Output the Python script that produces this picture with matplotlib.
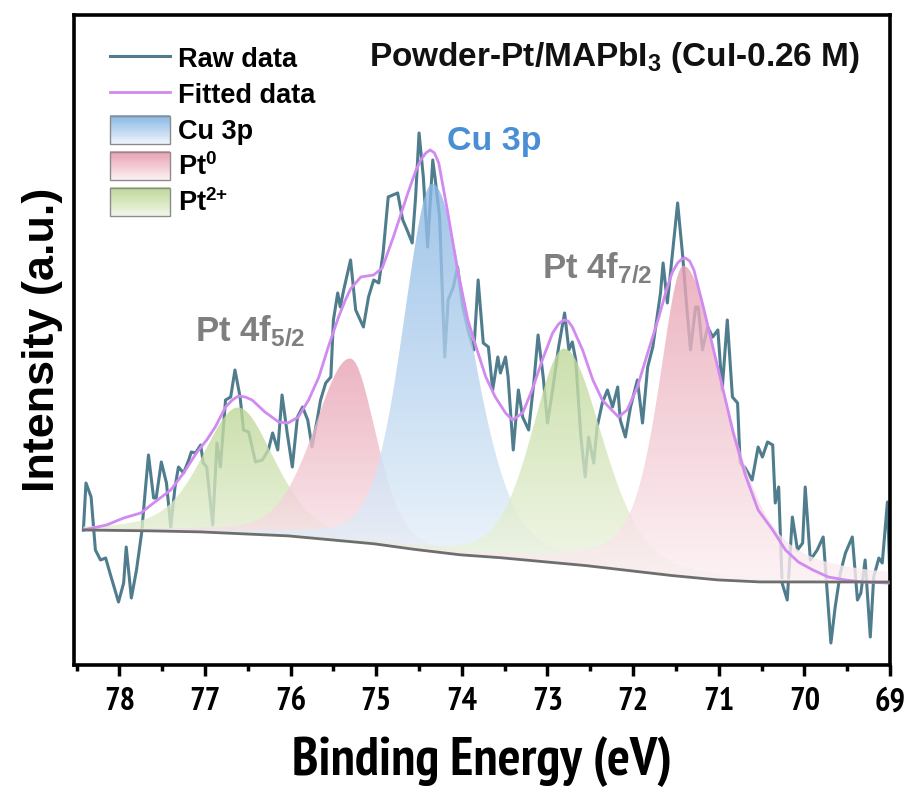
import os
import numpy as np
import matplotlib
matplotlib.use("Agg")
import matplotlib.pyplot as plt
from matplotlib import font_manager as fm
from matplotlib.font_manager import FontProperties
from matplotlib.colors import LinearSegmentedColormap, to_rgb
from matplotlib.legend_handler import HandlerBase
from matplotlib.patches import Rectangle, Patch
from matplotlib.lines import Line2D

plt.rcParams["font.family"] = ["Liberation Sans", "DejaVu Sans"]
plt.rcParams["font.weight"] = "bold"
plt.rcParams["mathtext.fontset"] = "custom"
plt.rcParams["mathtext.rm"] = "Liberation Sans:bold"
plt.rcParams["mathtext.bf"] = "Liberation Sans:bold"
plt.rcParams["mathtext.default"] = "bf"

# ---- raw spectrum (binding energy in eV, intensity in a.u.) ----
raw_be = [78.42, 78.39, 78.33, 78.28, 78.22, 78.16, 78.11, 78.01, 77.95, 77.92,
          77.86, 77.80, 77.74, 77.70, 77.66, 77.60, 77.57, 77.51, 77.45, 77.40,
          77.35, 77.31, 77.25, 77.19, 77.16, 77.11, 77.05, 77.02, 76.98, 76.91,
          76.86, 76.82, 76.76, 76.70, 76.65, 76.59, 76.55, 76.49, 76.41, 76.33,
          76.26, 76.21, 76.15, 76.10, 76.04, 75.98, 75.92, 75.86, 75.80, 75.75,
          75.69, 75.65, 75.59, 75.53, 75.50, 75.45, 75.42, 75.38, 75.30, 75.24,
          75.15, 75.09, 75.03, 74.97, 74.92, 74.86, 74.75, 74.69, 74.64, 74.58,
          74.54, 74.50, 74.45, 74.40, 74.34, 74.31, 74.26, 74.20, 74.16, 74.10,
          74.05, 73.99, 73.92, 73.86, 73.81, 73.75, 73.69, 73.64, 73.58, 73.55,
          73.49, 73.46, 73.40, 73.34, 73.29, 73.22, 73.16, 73.11, 73.05, 73.00,
          72.94, 72.87, 72.80, 72.75, 72.71, 72.67, 72.61, 72.56, 72.52, 72.46,
          72.42, 72.36, 72.30, 72.24, 72.18, 72.15, 72.09, 72.03, 71.95, 71.89,
          71.83, 71.77, 71.68, 71.65, 71.60, 71.54, 71.48, 71.42, 71.39, 71.33,
          71.27, 71.24, 71.19, 71.13, 71.07, 71.01, 70.96, 70.90, 70.84, 70.78,
          70.75, 70.69, 70.61, 70.54, 70.49, 70.43, 70.37, 70.34, 70.30, 70.26,
          70.20, 70.14, 70.08, 70.02, 69.99, 69.93, 69.85, 69.78, 69.69, 69.64,
          69.58, 69.52, 69.44, 69.38, 69.34, 69.29, 69.23, 69.19, 69.13, 69.09,
          69.03, 69.00]
raw_int = [135, 182, 168, 115, 105, 107, 92, 63, 82, 118,
           67, 95, 132, 172, 210, 167, 167, 203, 182, 138,
           178, 198, 192, 205, 213, 212, 220, 202, 198, 140,
           222, 198, 265, 268, 295, 268, 235, 233, 203, 205,
           215, 232, 215, 270, 232, 198, 248, 258, 245, 218,
           245, 265, 282, 288, 345, 372, 358, 375, 405, 355,
           338, 368, 385, 382, 412, 468, 472, 445, 435, 422,
           468, 532, 488, 418, 505, 485, 448, 308, 365, 378,
           398, 358, 332, 315, 385, 322, 318, 275, 308, 292,
           308, 288, 215, 275, 248, 235, 282, 330, 288, 242,
           275, 318, 352, 315, 323, 305, 228, 188, 228, 202,
           238, 262, 275, 258, 278, 245, 228, 258, 285, 242,
           298, 318, 372, 402, 362, 412, 462, 408, 375, 315,
           358, 358, 315, 338, 328, 335, 275, 345, 268, 262,
           202, 197, 185, 218, 208, 223, 220, 162, 178, 82,
           65, 148, 115, 122, 178, 105, 115, 128, 22, 58,
           92, 112, 128, 65, 72, 105, 28, 88, 107, 102,
           163, 85]

# ---- fitted envelope ----
fit_be = [78.42, 78.15, 77.95, 77.75, 77.60, 77.40, 77.25, 77.10, 76.98, 76.88,
          76.76, 76.68, 76.61, 76.53, 76.45, 76.30, 76.14, 76.03, 75.91, 75.79,
          75.67, 75.56, 75.44, 75.36, 75.30, 75.18, 75.03, 74.93, 74.80, 74.63,
          74.54, 74.48, 74.42, 74.37, 74.32, 74.27, 74.17, 74.05, 73.93, 73.83,
          73.72, 73.61, 73.49, 73.41, 73.29, 73.18, 73.06, 72.94, 72.87, 72.81,
          72.76, 72.71, 72.59, 72.47, 72.36, 72.25, 72.17, 72.07, 71.95, 71.83,
          71.71, 71.60, 71.54, 71.48, 71.43, 71.39, 71.34, 71.29, 71.18, 71.06,
          70.94, 70.83, 70.69, 70.54, 70.37, 70.22, 70.07, 69.90, 69.72, 69.52,
          69.32, 69.02]
fit_int = [135, 140, 147, 152, 162, 175, 192, 212, 225, 238,
           258, 265, 269, 268, 265, 253, 243, 242, 248, 265,
           288, 318, 348, 365, 376, 388, 390, 397, 428, 472,
           494, 505, 512, 515, 512, 502, 455, 395, 345, 317,
           288, 268, 252, 245, 252, 275, 305, 332, 341, 345,
           344, 338, 315, 285, 265, 255, 248, 255, 278, 312,
           345, 378, 393, 402, 406, 407, 404, 395, 358, 315,
           272, 232, 190, 155, 135, 115, 103, 95, 88, 85,
           83, 82]

# ---- background (Shirley-type) ----
bg_be = [69.0, 70.0, 70.5, 71.0, 71.5, 72.0, 72.5, 73.0, 73.5,
         74.0, 74.5, 75.0, 75.5, 76.0, 76.5, 77.0, 77.5, 78.42]
bg_int = [83, 83, 83, 85, 89, 94, 99, 103, 107,
          110, 115, 121, 125, 129, 131, 133, 134, 135]

# ---- fitted components: centre (eV), height above bg, FWHM high-BE / low-BE side, L fraction ----
comp_kind = ["pt2", "pt0", "cu", "pt2", "pt0"]
comp_center = [76.61, 75.30, 74.34, 72.80, 71.41]
comp_height = [126, 183, 368, 215, 311]
comp_fwhm_hi = [1.00, 1.00, 0.82, 0.90, 0.70]
comp_fwhm_lo = [1.00, 0.70, 1.05, 1.05, 1.15]
comp_eta = [0.4, 0.3, 0.3, 0.35, 0.6]

fill_cols = {"cu": ("#8ab8e5", "#edf4fb"),
             "pt0": ("#e8a2b3", "#fcf0f3"),
             "pt2": ("#bfd898", "#f1f6e7")}


def pseudo_voigt(x, c, h, w_hi, w_lo, eta):
    w = np.where(x >= c, w_hi, w_lo)
    g = np.exp(-4 * np.log(2) * ((x - c) / w) ** 2)
    l = 1 / (1 + 4 * ((x - c) / w) ** 2)
    return h * (eta * l + (1 - eta) * g)


def narrow_bold_font():
    # closest thing to Arial Narrow Bold that is installed, if any
    best, best_score = None, None
    for f in fm.fontManager.ttflist:
        name = (f.name + " " + os.path.basename(f.fname)).lower()
        if "dejavu" in name or not ("narrow" in name or "condensed" in name):
            continue
        if "italic" in name or "oblique" in name:
            continue
        w = f.weight if isinstance(f.weight, int) else (700 if "bold" in str(f.weight) else 400)
        score = abs(w - 700)
        if "extra" in name or "ultra" in name or "black" in name:
            score += 300
        if "narrow" in name:
            score -= 50
        if best_score is None or score < best_score:
            best, best_score = f.fname, score
    return best


x = np.linspace(69.0, 78.42, 800)
bg = np.interp(x, bg_be, bg_int)
comps = [pseudo_voigt(x, c, h, wh, wl, e) for c, h, wh, wl, e in
         zip(comp_center, comp_height, comp_fwhm_hi, comp_fwhm_lo, comp_eta)]

fig = plt.figure(figsize=(9.1, 7.87), dpi=100)
ax = fig.add_axes([0.0813, 0.155, 0.8967, 0.826])

ax.plot(raw_be, raw_int, color="#4f7d8e", lw=2.2, zorder=1)

grad = np.linspace(0, 1, 256).reshape(-1, 1)
for comp, kind in zip(comps, comp_kind):
    top, bot = fill_cols[kind]
    poly = ax.fill_between(x, bg, bg + comp, facecolor="none", edgecolor="none")
    cmap = LinearSegmentedColormap.from_list(kind, [bot, top])
    im = ax.imshow(grad, extent=[x.min(), x.max(), bg.min(), (bg + comp).max()],
                   origin="lower", aspect="auto", cmap=cmap, alpha=0.8, zorder=2)
    im.set_clip_path(poly.get_paths()[0], transform=ax.transData)

ax.plot(fit_be, fit_int, color="#d08af0", lw=2.0, zorder=4)
ax.plot(x, bg, color="#6e6e6e", lw=2.0, zorder=4)

ax.set_xlim(78.53, 69)
ax.set_ylim(0, 650)
ax.set_xticks(np.arange(69, 79, 1))
ax.set_xticks(np.arange(69.5, 78.6, 1), minor=True)
ax.set_yticks([])
ax.tick_params(axis="x", which="major", direction="out", length=8, width=2.5, pad=8)
ax.tick_params(axis="x", which="minor", direction="out", length=4.5, width=2.5)
for s in ax.spines.values():
    s.set_linewidth(2.6)

nf = narrow_bold_font()
if nf:
    tick_fp = FontProperties(fname=nf, size=26)
    xlab_fp = FontProperties(fname=nf, size=35)
else:
    tick_fp = FontProperties(family="Liberation Sans", weight="bold", size=22)
    xlab_fp = FontProperties(family="Liberation Sans", weight="bold", size=30)
for lab in ax.get_xticklabels():
    lab.set_fontproperties(tick_fp)

ax.set_xlabel("Binding Energy (eV)", fontproperties=xlab_fp)
ax.xaxis.set_label_coords(0.5, -0.109)
ax.set_ylabel("Intensity (a.u.)", fontsize=31.5, fontweight="bold", labelpad=8)

ax.text(0.663, 0.935, "Powder-Pt/MAPbI$_3$ (CuI-0.26 M)", transform=ax.transAxes,
        ha="center", va="center", fontsize=24, fontweight="bold", color="#111111")
ax.text(73.62, 523, "Cu 3p", ha="center", va="center", fontsize=24.5,
        fontweight="bold", color="#4a8fd6")
ax.text(76.47, 333, "Pt 4f$_{5/2}$", ha="center", va="center", fontsize=25,
        fontweight="bold", color="#7f7f7f")
ax.text(72.42, 396, "Pt 4f$_{7/2}$", ha="center", va="center", fontsize=25,
        fontweight="bold", color="#7f7f7f")


class GradHandler(HandlerBase):
    def __init__(self, top, bot):
        super().__init__()
        self.top = np.array(to_rgb(top))
        self.bot = np.array(to_rgb(bot))

    def create_artists(self, legend, orig_handle, xdescent, ydescent,
                       width, height, fontsize, trans):
        arts = []
        n = 24
        for i in range(n):
            f = i / (n - 1)
            col = self.bot * (1 - f) + self.top * f
            arts.append(Rectangle((-xdescent, -ydescent + height * i / n), width,
                                  height / n + 0.3, facecolor=col, edgecolor="none",
                                  transform=trans))
        arts.append(Rectangle((-xdescent, -ydescent), width, height, facecolor="none",
                              edgecolor="#8c8c8c", lw=1.0, transform=trans))
        return arts


h_raw = Line2D([], [], color="#4f7d8e", lw=2.2)
h_fit = Line2D([], [], color="#d08af0", lw=2.0)
h_cu = Patch()
h_pt0 = Patch()
h_pt2 = Patch()
ax.legend([h_raw, h_fit, h_cu, h_pt0, h_pt2],
          ["Raw data", "Fitted data", "Cu 3p", "Pt$^0$", "Pt$^{2{+}}$"],
          handler_map={h_cu: GradHandler(*fill_cols["cu"]),
                       h_pt0: GradHandler(*fill_cols["pt0"]),
                       h_pt2: GradHandler(*fill_cols["pt2"])},
          loc="upper left", bbox_to_anchor=(0.031, 0.972), frameon=False,
          prop={"weight": "bold", "size": 19.5}, handlelength=2.2, handleheight=1.22,
          handletextpad=0.3, labelspacing=0.25, borderaxespad=0)

# size the axis texts to the widths they have in the original figure
fig.canvas.draw()
r = fig.canvas.get_renderer()
tl = ax.get_xticklabels()[-1]
k = 31.0 / tl.get_window_extent(r).width
for lab in ax.get_xticklabels():
    lab.set_fontsize(tick_fp.get_size() * k)
xl = ax.xaxis.label
xl.set_fontsize(xl.get_fontsize() * 380.0 / xl.get_window_extent(r).width)
yl = ax.yaxis.label
yl.set_fontsize(yl.get_fontsize() * 305.0 / yl.get_window_extent(r).height)

fig.savefig("out.png", dpi=100)
